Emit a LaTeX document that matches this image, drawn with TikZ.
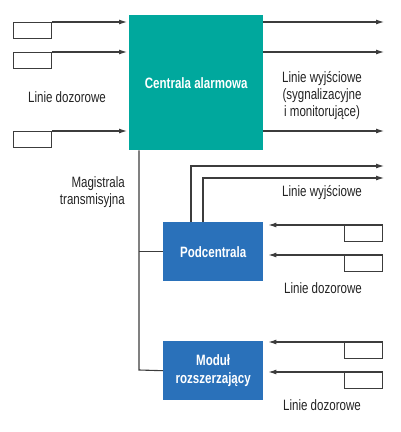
\documentclass[tikz,border=0pt]{standalone}
\usepackage{fontspec}
\setmainfont[FakeStretch=0.77]{Liberation Sans}
\usetikzlibrary{arrows.meta}
\definecolor{tealbox}{RGB}{0,168,157}
\definecolor{bluebox}{RGB}{42,113,186}
\definecolor{linec}{RGB}{60,60,60}
\definecolor{txtc}{RGB}{35,35,35}
\tikzset{
  mainbox/.style={fill=tealbox, draw=none, anchor=north west, minimum width=134pt, minimum height=135pt, inner sep=0pt, text=white, font=\bfseries\fontsize{15pt}{17pt}\selectfont, align=center},
  subbox/.style={fill=bluebox, draw=none, anchor=north west, minimum width=100pt, minimum height=59pt, inner sep=0pt, text=white, font=\bfseries\fontsize{15pt}{18pt}\selectfont, align=center},
  sensor/.style={draw=linec, line width=1pt, fill=white, anchor=north west, minimum width=38pt, minimum height=16pt, inner sep=0pt},
  arr/.style={draw=linec, line width=1.1pt, -{Latex[length=8pt,width=5pt]}},
  wire/.style={draw=linec, line width=1.1pt},
  lbl/.style={text=txtc, font=\fontsize{15pt}{17pt}\selectfont, inner sep=0pt}
}
\begin{document}
\begin{tikzpicture}[x=1pt,y=-1pt]
\useasboundingbox (0,0) rectangle (400,432);

% main unit
\node[mainbox] (central) at (129,15) {Centrala alarmowa};
\node[subbox] (sub) at (163,222) {Podcentrala};
\node[subbox] (mod) at (163,341) {Moduł\\rozszerzający};

% left sensors
\node[sensor] (l1) at (13,22) {};
\node[sensor] (l2) at (13,52) {};
\node[sensor] (l3) at (13,131) {};
\foreach \s in {l1,l2,l3}
  \draw[arr, shorten >=2pt] (\s.north east) -- (\s.north east -| central.west);
\node[lbl] (lleft) at (67,97) {Linie dozorowe};

% outputs of central
\coordinate (o1) at (384,22);
\coordinate (o2) at (384,52);
\coordinate (o3) at (384,131);
\foreach \o in {o1,o2,o3}
  \draw[arr] (central.east |- \o) -- (\o);
\node[lbl, align=center, anchor=north] (lout) at (322,71) {Linie wyjściowe\\(sygnalizacyjne\\ i monitorujące)};

% transmission bus
\coordinate (busend) at (139,370);
\draw[wire] (central.south -| busend) -- (busend) -- (mod.west);
\draw[wire] (sub.west -| busend) -- (sub.west);
\node[lbl, align=right, anchor=north east] (lbus) at (125,176) {Magistrala\\transmisyjna};

% outputs of sub-central
\coordinate (po1) at (384,166);
\coordinate (po2) at (384,178);
\draw[arr] ([xshift=28pt]sub.north west) |- (po1);
\draw[arr] ([xshift=40pt]sub.north west) |- (po2);
\node[lbl] (lsubout) at (322,193) {Linie wyjściowe};

% inputs of sub-central
\node[sensor] (s1) at (344,225) {};
\node[sensor] (s2) at (344,255) {};
\foreach \s in {s1,s2}
  \draw[arr, shorten >=5pt] (\s.north east) -- (\s.north east -| sub.east);
\node[lbl] (lsubin) at (323,288) {Linie dozorowe};

% inputs of extension module
\node[sensor] (m1) at (344,342) {};
\node[sensor] (m2) at (344,372) {};
\foreach \s in {m1,m2}
  \draw[arr, shorten >=5pt] (\s.north east) -- (\s.north east -| mod.east);
\node[lbl] (lmodin) at (322,405) {Linie dozorowe};
\end{tikzpicture}
\end{document}
